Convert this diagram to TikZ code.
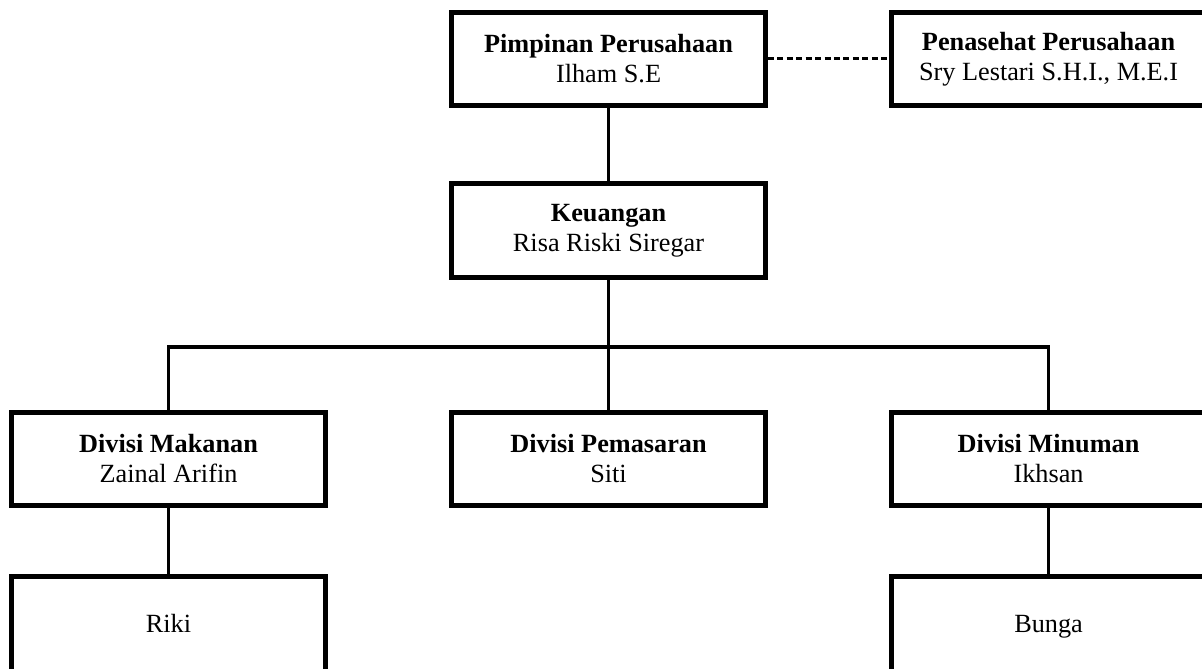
\documentclass[tikz,border=0pt]{standalone}
\usepackage{fontspec}
\setmainfont{Liberation Serif}
\usepackage{tikz}

\begin{document}
\begin{tikzpicture}[
                node distance=330pt,          % jarak antar kolom
                box/.style={
                    rectangle,
                    draw,
                    line width=3.75pt,
                    minimum width=235pt,
                    minimum height=70pt,
                    align=center,
                    font=\fontsize{19.7}{22.5}\selectfont
                },
                staff/.style={box, minimum height=72pt, text height=13pt, text depth=0pt},
                line/.style={line width=2.6pt},
                advisor/.style={line width=2.4pt, dash pattern=on 4.5pt off 2.6pt}
            ]
                \path[use as bounding box, fill=white] (0,0) rectangle (901.5pt,-501pt);

                % node
                \node[box] (pimpinan) at (456.4pt,-44.1pt) {\textbf{Pimpinan Perusahaan}\\Ilham S.E};
                \node[box] (penasehat) [right of=pimpinan] {\textbf{Penasehat Perusahaan}\\Sry Lestari S.H.I., M.E.I};
                \node[box] (keuangan) [below of=pimpinan, node distance=128.8pt] {\textbf{Keuangan}\\Risa Riski Siregar};
                \node[box] (pemasaran) [below of=keuangan, node distance=171.2pt] {\textbf{Divisi Pemasaran}\\Siti};
                \node[box] (makanan) [left of=pemasaran] {\textbf{Divisi Makanan}\\Zainal Arifin};
                \node[box] (minuman) [right of=pemasaran] {\textbf{Divisi Minuman}\\Ikhsan};
                \node[staff] (riki) [below of=makanan, node distance=124pt] {Riki};     % staf makanan
                \node[staff] (bunga) [below of=minuman, node distance=124pt] {Bunga};   % staf minuman
                \coordinate (split) at ([yshift=-50.6pt]keuangan.south);

                % garis
                \draw[advisor] (pimpinan) -- (penasehat);
                \draw[line] (pimpinan) -- (keuangan);
                \draw[line] (keuangan) -- (pemasaran);
                \draw[line] (makanan.north) |- (split) -| (minuman.north);
                \draw[line] (makanan) -- (riki);
                \draw[line] (minuman) -- (bunga);
            \end{tikzpicture}
\end{document}
